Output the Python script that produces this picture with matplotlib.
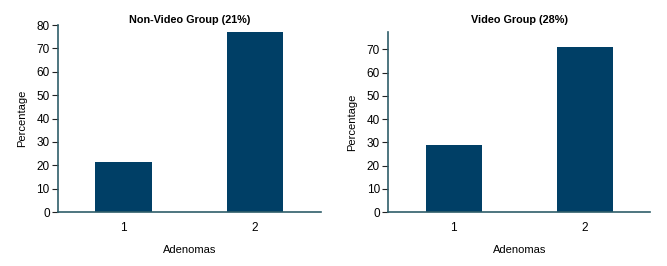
import matplotlib
matplotlib.use("Agg")
import matplotlib.pyplot as plt

plt.rcParams['font.family'] = ['Liberation Sans', 'DejaVu Sans']
plt.rcParams['font.size'] = 8

categories = ['1', '2']
titles = ['Non-Video Group (21%)', 'Video Group (28%)']
non_video = [21.3, 77.0]
video = [29.0, 71.1]
ylims = [80, 77.6]
yticks = [list(range(0, 81, 10)), list(range(0, 71, 10))]

BAR = '#003f66'
SPINE = '#2f5d69'

fig = plt.figure(figsize=(6.67, 2.66), dpi=100)
ax1 = fig.add_axes([0.087, 0.203, 0.394, 0.703])
ax2 = fig.add_axes([0.582, 0.203, 0.393, 0.678])

for ax, vals, title, top, ticks in zip([ax1, ax2], [non_video, video], titles, ylims, yticks):
    x = range(1, len(categories) + 1)
    ax.bar(x, vals, width=0.43, color=BAR)
    ax.set_xlim(0.5, 2.5)
    ax.set_ylim(0, top)
    ax.set_yticks(ticks)
    ax.set_xticks(list(x))
    ax.set_xticklabels(categories)
    ax.tick_params(axis='y', length=4, width=0.8, color='#222222', pad=2, labelsize=8.5)
    ax.tick_params(axis='x', length=0, pad=7, labelsize=8.5)
    for s in ['top', 'right']:
        ax.spines[s].set_visible(False)
    for s in ['left', 'bottom']:
        ax.spines[s].set_color(SPINE)
        ax.spines[s].set_linewidth(1.2)
    ax.set_xlabel('Adenomas', labelpad=8, fontsize=8)
    ax.set_ylabel('Percentage', labelpad=7, fontsize=8)
    pos = ax.get_position()
    fig.text(pos.x0 + pos.width / 2, 1 - 20 / 266, title,
             ha='center', va='center', fontweight='bold', fontsize=7.8)

fig.savefig('out.png', dpi=100)
